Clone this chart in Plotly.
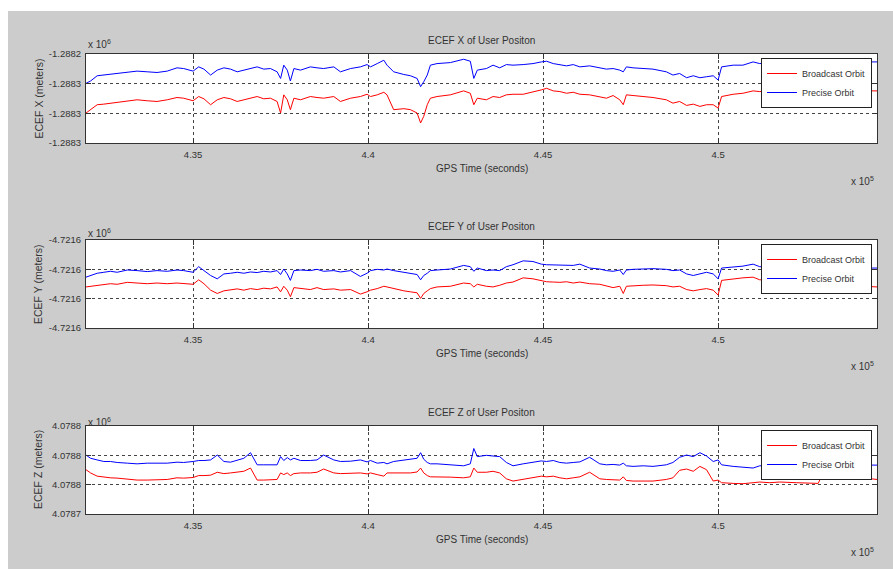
import plotly.graph_objects as go

# GPS time epochs (seconds)
gps_time = [431940, 432070, 432260, 432450, 432640, 432830, 433120, 433400, 433690, 433970,
            434260, 434540, 434730, 435000, 435160, 435310, 435500, 435690, 435880, 436070,
            436260, 436450, 436640, 436830, 437020, 437210, 437400, 437500, 437590, 437690,
            437780, 437880, 438070, 438350, 438540, 438730, 439020, 439210, 439500, 439780,
            439970, 440070, 440260, 440450, 440540, 440730, 441020, 441210, 441400, 441500,
            441590, 441690, 441780, 441970, 442350, 442730, 442920, 443020, 443120,
            443380, 443570, 443760, 443950, 444140, 444430, 444710, 444950, 445100, 445290,
            445480, 445670, 445860, 446050, 446330, 446620, 446810, 447000, 447190, 447290,
            447380, 447570, 447860, 448140, 448520, 448710, 448900, 449100, 449290, 449480,
            449670, 449860, 450000, 450100, 450430, 450710, 451000, 451190, 451480, 451760,
            452240, 452710, 452860, 453000, 453290, 453670, 454140, 454540]

# ECEF X (meters)
x_precise = [-1288269.7, -1288267.3, -1288262.0, -1288261.3, -1288260.7, -1288259.7, -1288258.7, -1288257.3, -1288258.0, -1288258.7,
             -1288257.3, -1288254.0, -1288254.7, -1288257.3, -1288253.0, -1288255.3, -1288261.3, -1288256.3, -1288254.0, -1288255.3,
             -1288258.0, -1288256.3, -1288254.7, -1288253.0, -1288255.3, -1288254.7, -1288258.0, -1288264.7, -1288251.3, -1288256.3,
             -1288267.3, -1288254.7, -1288256.3, -1288253.0, -1288254.0, -1288254.7, -1288253.0, -1288258.0, -1288254.7, -1288253.0,
             -1288250.7, -1288253.0, -1288249.7, -1288246.3, -1288251.3, -1288258.0, -1288260.7, -1288262.0, -1288264.7, -1288273.0,
             -1288268.0, -1288261.3, -1288251.3, -1288249.7, -1288248.7, -1288245.3, -1288247.3, -1288264.7, -1288256.3,
             -1288254.7, -1288251.3, -1288254.0, -1288250.7, -1288251.3, -1288250.7, -1288249.7, -1288248.0, -1288247.3, -1288249.7,
             -1288250.7, -1288252.0, -1288250.7, -1288253.0, -1288252.0, -1288254.0, -1288255.3, -1288254.7, -1288256.3, -1288258.0,
             -1288253.0, -1288254.0, -1288254.7, -1288255.3, -1288258.0, -1288261.3, -1288259.7, -1288264.0, -1288262.0, -1288264.0,
             -1288263.0, -1288262.0, -1288266.3, -1288253.0, -1288251.3, -1288251.3, -1288248.0, -1288249.7, -1288248.7, -1288248.0,
             -1288247.3, -1288248.0, -1288248.0, -1288247.3, -1288247.3, -1288248.0, -1288248.0, -1288248.0]
x_broadcast = [-1288299.7, -1288296.3, -1288291.3, -1288290.7, -1288289.7, -1288288.7, -1288287.3, -1288286.3, -1288287.3, -1288288.0,
               -1288286.3, -1288284.0, -1288284.7, -1288287.3, -1288283.0, -1288285.3, -1288291.3, -1288286.3, -1288284.0, -1288285.3,
               -1288288.0, -1288286.3, -1288284.7, -1288283.0, -1288285.3, -1288284.7, -1288288.0, -1288299.7, -1288281.3, -1288286.3,
               -1288296.3, -1288284.7, -1288286.3, -1288283.0, -1288284.0, -1288284.7, -1288283.0, -1288288.0, -1288284.7, -1288283.0,
               -1288280.7, -1288283.0, -1288281.3, -1288278.7, -1288281.3, -1288296.3, -1288295.3, -1288296.3, -1288299.7, -1288309.7,
               -1288303.0, -1288291.3, -1288284.7, -1288283.0, -1288281.3, -1288277.3, -1288279.7, -1288291.3, -1288284.7,
               -1288286.3, -1288283.0, -1288284.0, -1288281.3, -1288280.7, -1288280.7, -1288278.7, -1288276.3, -1288274.7, -1288277.3,
               -1288278.0, -1288279.7, -1288278.7, -1288280.7, -1288281.3, -1288283.0, -1288284.7, -1288282.0, -1288286.3, -1288291.3,
               -1288281.3, -1288282.0, -1288283.0, -1288284.0, -1288286.3, -1288289.7, -1288288.0, -1288292.0, -1288290.7, -1288293.0,
               -1288291.3, -1288291.3, -1288294.7, -1288283.0, -1288280.7, -1288279.7, -1288277.3, -1288278.0, -1288277.3, -1288277.3,
               -1288276.3, -1288277.3, -1288277.3, -1288276.3, -1288276.3, -1288277.3, -1288277.3, -1288277.3]

# ECEF Y (meters)
y_precise = [-4721598.0, -4721596.3, -4721594.0, -4721593.0, -4721592.0, -4721593.0, -4721590.7, -4721591.3, -4721592.3, -4721591.3,
             -4721592.0, -4721590.7, -4721591.3, -4721593.0, -4721587.3, -4721591.3, -4721596.3, -4721599.7, -4721594.7, -4721594.0,
             -4721593.0, -4721594.0, -4721592.7, -4721593.3, -4721592.0, -4721592.7, -4721591.3, -4721595.3, -4721589.7, -4721594.7,
             -4721601.3, -4721591.3, -4721590.7, -4721591.3, -4721590.0, -4721592.0, -4721591.3, -4721592.7, -4721591.3, -4721597.3,
             -4721594.0, -4721591.3, -4721590.0, -4721590.7, -4721589.7, -4721591.3, -4721593.0, -4721594.7, -4721595.3, -4721600.7,
             -4721596.3, -4721594.0, -4721591.3, -4721590.7, -4721589.7, -4721586.0, -4721587.3, -4721592.0, -4721588.7,
             -4721591.3, -4721590.7, -4721591.3, -4721587.3, -4721585.3, -4721581.3, -4721582.0, -4721584.7, -4721585.3, -4721585.3,
             -4721586.0, -4721585.3, -4721586.0, -4721584.7, -4721588.7, -4721589.7, -4721591.3, -4721592.0, -4721590.7, -4721595.3,
             -4721590.7, -4721590.0, -4721589.7, -4721589.3, -4721590.0, -4721591.3, -4721590.7, -4721594.7, -4721596.3, -4721594.7,
             -4721593.0, -4721594.7, -4721599.7, -4721588.7, -4721587.3, -4721586.7, -4721584.7, -4721587.3, -4721587.3, -4721587.3,
             -4721588.0, -4721588.0, -4721588.0, -4721588.0, -4721588.7, -4721588.7, -4721588.7, -4721588.7]
y_broadcast = [-4721608.0, -4721607.3, -4721606.3, -4721605.7, -4721604.7, -4721605.3, -4721603.3, -4721604.0, -4721604.7, -4721604.0,
               -4721604.7, -4721604.0, -4721604.7, -4721605.3, -4721600.7, -4721604.7, -4721611.3, -4721614.7, -4721612.0, -4721610.7,
               -4721610.0, -4721611.3, -4721609.7, -4721610.7, -4721609.3, -4721610.0, -4721608.0, -4721613.0, -4721607.3, -4721611.3,
               -4721618.0, -4721608.7, -4721609.7, -4721610.7, -4721608.7, -4721610.7, -4721610.0, -4721611.3, -4721610.7, -4721615.3,
               -4721613.0, -4721611.3, -4721609.7, -4721607.3, -4721608.0, -4721609.7, -4721612.0, -4721613.0, -4721614.0, -4721619.7,
               -4721614.7, -4721612.0, -4721609.7, -4721608.0, -4721607.3, -4721604.0, -4721604.7, -4721608.0, -4721605.3,
               -4721607.3, -4721608.0, -4721606.3, -4721604.0, -4721603.0, -4721598.7, -4721599.7, -4721602.0, -4721602.7, -4721603.0,
               -4721603.3, -4721602.7, -4721604.0, -4721603.0, -4721604.7, -4721605.3, -4721607.3, -4721608.7, -4721607.3, -4721614.7,
               -4721607.3, -4721606.7, -4721606.3, -4721606.0, -4721606.7, -4721608.0, -4721607.3, -4721610.7, -4721612.0, -4721610.7,
               -4721609.7, -4721611.3, -4721616.3, -4721601.3, -4721599.7, -4721598.7, -4721598.0, -4721600.7, -4721600.7, -4721601.3,
               -4721602.0, -4721603.0, -4721603.0, -4721604.0, -4721604.7, -4721605.3, -4721607.3, -4721608.0]

# ECEF Z (meters)
z_precise = [4078800.3, 4078797.0, 4078795.3, 4078793.7, 4078793.7, 4078792.7, 4078792.0, 4078791.3, 4078792.0, 4078791.7,
             4078792.0, 4078793.0, 4078792.7, 4078793.7, 4078794.7, 4078794.7, 4078795.3, 4078800.3, 4078793.7, 4078793.0,
             4078794.7, 4078797.0, 4078802.7, 4078790.3, 4078790.3, 4078790.0, 4078790.3, 4078798.7, 4078794.7, 4078797.7,
             4078795.3, 4078797.0, 4078794.7, 4078794.7, 4078795.3, 4078800.3, 4078795.3, 4078793.7, 4078794.0, 4078795.3,
             4078793.3, 4078794.7, 4078792.0, 4078792.7, 4078791.3, 4078793.7, 4078795.3, 4078796.0, 4078797.0, 4078802.7,
             4078796.0, 4078792.7, 4078791.3, 4078791.3, 4078790.3, 4078789.3, 4078791.3, 4078807.0, 4078798.7,
             4078800.0, 4078799.3, 4078798.7, 4078792.7, 4078789.3, 4078791.3, 4078792.7, 4078794.3, 4078793.7, 4078794.7,
             4078792.7, 4078792.0, 4078792.7, 4078793.3, 4078798.0, 4078791.3, 4078790.3, 4078790.7, 4078790.0, 4078792.0,
             4078789.3, 4078788.7, 4078789.3, 4078788.7, 4078790.3, 4078792.7, 4078798.0, 4078800.3, 4078798.7, 4078802.7,
             4078799.3, 4078793.7, 4078795.3, 4078790.3, 4078788.7, 4078788.0, 4078787.0, 4078789.3, 4078790.0, 4078790.3,
             4078790.3, 4078790.3, 4078790.7, 4078790.7, 4078790.7, 4078790.3, 4078790.0, 4078790.0]
z_broadcast = [4078785.3, 4078782.0, 4078778.7, 4078777.7, 4078777.0, 4078776.7, 4078775.3, 4078774.7, 4078774.7, 4078774.7,
               4078775.3, 4078777.0, 4078776.7, 4078777.3, 4078779.3, 4078779.3, 4078779.7, 4078782.7, 4078781.3, 4078782.0,
               4078782.7, 4078783.7, 4078787.0, 4078774.7, 4078774.7, 4078774.7, 4078775.3, 4078782.0, 4078780.3, 4078782.0,
               4078779.3, 4078781.3, 4078782.0, 4078782.0, 4078782.7, 4078786.0, 4078782.0, 4078781.3, 4078782.0, 4078782.0,
               4078781.0, 4078782.0, 4078780.3, 4078778.7, 4078782.0, 4078782.0, 4078782.7, 4078782.0, 4078783.0, 4078787.0,
               4078782.0, 4078779.3, 4078778.0, 4078778.0, 4078777.7, 4078777.0, 4078778.0, 4078787.0, 4078782.7,
               4078782.7, 4078783.7, 4078782.0, 4078776.0, 4078773.7, 4078775.3, 4078777.0, 4078778.7, 4078778.0, 4078778.7,
               4078777.0, 4078776.0, 4078777.0, 4078778.0, 4078782.7, 4078776.0, 4078775.3, 4078775.3, 4078774.7, 4078778.0,
               4078774.3, 4078773.7, 4078774.0, 4078773.7, 4078775.3, 4078777.0, 4078784.7, 4078786.0, 4078783.7, 4078788.7,
               4078785.3, 4078773.7, 4078774.7, 4078772.0, 4078771.3, 4078771.0, 4078772.0, 4078772.7, 4078772.0, 4078772.7,
               4078772.0, 4078771.3, 4078771.3, 4078782.0, 4078780.3, 4078778.7, 4078777.0, 4078775.3]

time_tick_vals = [435000, 440000, 445000, 450000]
time_tick_text = ["4.35", "4.4", "4.45", "4.5"]
time_range = [431940, 454540]

x_tick_vals = [-1288330, -1288300, -1288270, -1288240]
x_tick_text = ["-1.2883", "-1.2883", "-1.2883", "-1.2882"]
y_tick_vals = [-4721650, -4721620, -4721590, -4721560]
y_tick_text = ["-4.7216", "-4.7216", "-4.7216", "-4.7216"]
z_tick_vals = [4078740, 4078770, 4078800, 4078830]
z_tick_text = ["4.0787", "4.0788", "4.0788", "4.0788"]

titles = ["ECEF X of User Positon", "ECEF Y of User Positon", "ECEF Z of User Positon"]
ylabels = ["ECEF X (meters)", "ECEF Y (meters)", "ECEF Z (meters)"]
series_names = ["Broadcast Orbit", "Precise Orbit"]

W, H = 893, 569
def fx(px):
    return px / W
def fy(py):
    return 1 - py / H

panel_tops = [54, 240, 426]
panel_bottoms = [143, 328, 514]
exp_offsets = [10, 7, 4]
plot_left, plot_right = 86, 877

FONT = "Liberation Sans"
TXT = "#333333"
FIG_BG = "#cccccc"

panels = [
    (x_broadcast, x_precise, x_tick_vals, x_tick_text),
    (y_broadcast, y_precise, y_tick_vals, y_tick_text),
    (z_broadcast, z_precise, z_tick_vals, z_tick_text),
]

fig = go.Figure()
layout = dict(
    width=W, height=H,
    margin=dict(l=0, r=0, t=0, b=0, pad=0, autoexpand=False),
    paper_bgcolor=FIG_BG,
    plot_bgcolor="white",
    font=dict(family=FONT, size=10, color=TXT),
    showlegend=True,
)
annotations = []
for i, (bc, pr, tv, tt) in enumerate(panels):
    n = "" if i == 0 else str(i + 1)
    xa, ya = "x" + n, "y" + n
    leg = "legend" + n
    fig.add_trace(go.Scatter(x=gps_time, y=bc, mode="lines", name=series_names[0],
                             line=dict(color="#ff0000", width=1), xaxis=xa, yaxis=ya, legend=leg))
    fig.add_trace(go.Scatter(x=gps_time, y=pr, mode="lines", name=series_names[1],
                             line=dict(color="#0000ff", width=1), xaxis=xa, yaxis=ya, legend=leg))
    T, B = panel_tops[i], panel_bottoms[i]
    common = dict(showline=True, linecolor="#333333", linewidth=1, mirror="ticks",
                  ticks="inside", ticklen=5, tickcolor="#333333", automargin=False,
                  showgrid=True, gridcolor="#444444", griddash="dot", gridwidth=1,
                  zeroline=False, tickfont=dict(family=FONT, size=9.5, color=TXT))
    layout["xaxis" + n] = dict(common, domain=[fx(plot_left), fx(plot_right)], anchor=ya,
                               range=time_range, tickmode="array", tickvals=time_tick_vals,
                               ticktext=time_tick_text, ticklabelstandoff=3)
    layout["yaxis" + n] = dict(common, domain=[fy(B), fy(T)], anchor=xa,
                               range=[tv[0], tv[-1]], tickmode="array", tickvals=tv,
                               ticktext=tt, ticklabelstandoff=2)
    layout[leg] = dict(x=fx(761), y=fy(T + 4), xanchor="left", yanchor="top",
                       bgcolor="white", bordercolor="#222222", borderwidth=1,
                       font=dict(family=FONT, size=9, color=TXT), traceorder="normal",
                       tracegroupgap=0)
    cx = fx((plot_left + plot_right) / 2)
    annotations += [
        dict(text=titles[i], x=cx, y=fy(T - 14), xref="paper", yref="paper",
             showarrow=False, xanchor="center", yanchor="middle", font=dict(size=10)),
        dict(text="GPS Time (seconds)", x=cx, y=fy(B + 25), xref="paper", yref="paper",
             showarrow=False, xanchor="center", yanchor="middle", font=dict(size=10)),
        dict(text="x 10<sup>5</sup>", x=fx(862), y=fy(B + 38), xref="paper", yref="paper",
             showarrow=False, xanchor="center", yanchor="middle", font=dict(size=10)),
        dict(text="x 10<sup>6</sup>", x=fx(86), y=fy(T - exp_offsets[i]), xref="paper", yref="paper",
             showarrow=False, xanchor="left", yanchor="middle", font=dict(size=10)),
        dict(text=ylabels[i], x=fx(38), y=fy((T + B) / 2), xref="paper", yref="paper",
             showarrow=False, xanchor="center", yanchor="middle", textangle=-90,
             font=dict(size=10.5)),
    ]
layout["annotations"] = annotations
layout["shapes"] = [
    dict(type="rect", xref="paper", yref="paper", x0=0, x1=1, y0=fy(11), y1=1,
         fillcolor="white", line=dict(width=0), layer="below"),
    dict(type="rect", xref="paper", yref="paper", x0=0, x1=fx(8), y0=0, y1=1,
         fillcolor="white", line=dict(width=0), layer="below"),
]
fig.update_layout(**layout)
fig.write_html(
    "out.html", config={"displayModeBar": False},
    post_script=("document.documentElement.style.overflow='hidden';"
                 "document.body.style.margin='0';document.body.style.overflow='hidden';"
                 "document.body.style.background='" + FIG_BG + "';"
                 "document.documentElement.style.background='" + FIG_BG + "';"))
